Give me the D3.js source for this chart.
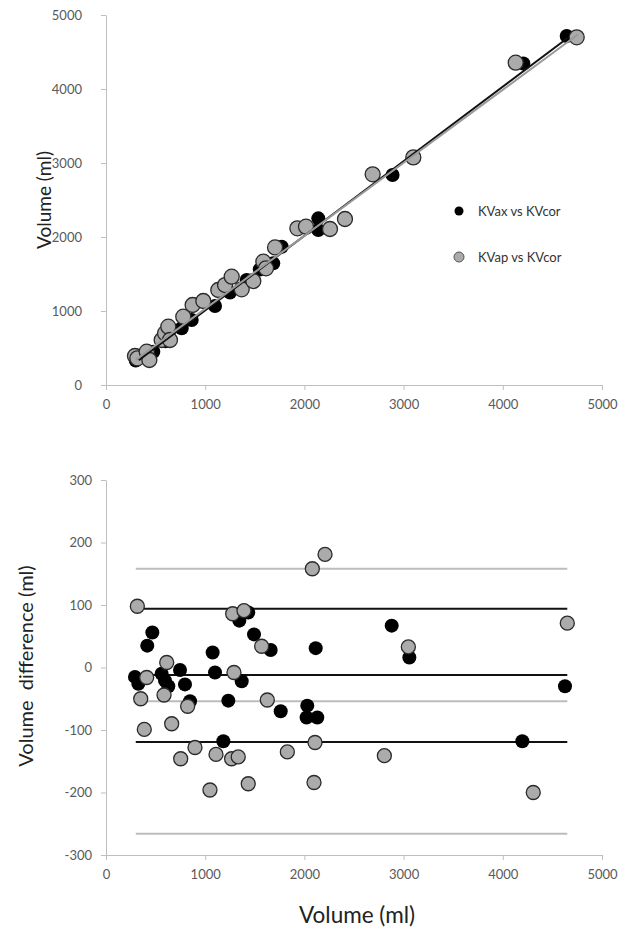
<!DOCTYPE html>
<html>
<head>
<meta charset="utf-8">
<script src="https://cdn.jsdelivr.net/npm/d3@7"></script>
<style>
  body { margin: 0; background: #fff; }
  text { font-family: Lato, "Open Sans", sans-serif; }
  .axis path, .axis line { stroke: #bfbfbf; }
  .axis text { fill: #595959; font-size: 13px; }
  .title { fill: #222; }
</style>
</head>
<body>
<svg id="chart" width="621" height="933"></svg>
<script>
const width = 621, height = 933;
const xTicks = [0, 1000, 2000, 3000, 4000, 5000];
const topYTicks = [0, 1000, 2000, 3000, 4000, 5000];
const botYTicks = [-300, -200, -100, 0, 100, 200, 300];

// top panel: KVcor (x) vs KVax / KVap (y)
const axCor = [300, 477, 600, 763, 864, 1099, 1250, 1418, 1550, 1686, 1771, 2140, 2140, 2889, 4207, 4644];
const axVal = [330, 450, 590, 766, 878, 1068, 1250, 1419, 1560, 1644, 1869, 2252, 2095, 2838, 4345, 4716];
const apCor = [292, 316, 410, 437, 561, 595, 628, 645, 779, 873, 981, 1132, 1200, 1267, 1368, 1485, 1586, 1613, 1704, 1929, 2016, 2258, 2409, 2688, 3098, 4130, 4745];
const apVal = [392, 360, 450, 338, 608, 700, 788, 608, 923, 1081, 1135, 1284, 1351, 1464, 1293, 1405, 1667, 1577, 1859, 2117, 2140, 2108, 2243, 2847, 3076, 4356, 4698];
const axFit = [[330, 335], [4650, 4685]];
const apFit = [[300, 340], [4760, 4740]];

// bottom panel: Bland-Altman
const axMean = [292, 326, 416, 467, 561, 595, 628, 746, 796, 847, 1075, 1099, 1183, 1233, 1344, 1368, 1434, 1492, 1660, 1761, 2029, 2022, 2114, 2130, 2880, 3058, 4197, 4627];
const axDiff = [-15, -26, 35, 56, -10, -21, -30, -4, -27, -54, 24, -8, -118, -53, 75, -22, 88, 53, 28, -70, -61, -80, 31, -80, 67, 16, -118, -30];
const apMean = [316, 350, 386, 410, 585, 612, 662, 753, 823, 897, 1048, 1109, 1266, 1277, 1290, 1333, 1391, 1434, 1569, 1626, 1828, 2080, 2097, 2107, 2208, 2806, 3048, 4307, 4650];
const apDiff = [98, -50, -99, -16, -44, 8, -90, -146, -62, -128, -196, -139, -146, 86, -8, -143, 91, -186, 34, -52, -135, 158, -184, -120, 181, -141, 33, -200, 71];
const axLines = [94, -12, -119];
const apLines = [158, -54, -266];
const lineRange = [300, 4650];

const svg = d3.select('#chart');

const x = d3.scaleLinear().domain([0, 5000]).range([106, 602]);
const yTop = d3.scaleLinear().domain([0, 5000]).range([385, 15]);
const yBot = d3.scaleLinear().domain([-300, 300]).range([855, 480]);
const plain = d => String(d);

function zip(a, b) {
    return a.map((v, i) => [v, b[i]]);
}

// ---- top panel ----
svg.append('g')
    .attr('class', 'axis')
    .attr('transform', `translate(0,${yTop(0)})`)
    .call(d3.axisBottom(x).tickValues(xTicks).tickFormat(plain).tickSize(5).tickSizeOuter(0).tickPadding(10));
svg.append('g')
    .attr('class', 'axis')
    .attr('transform', `translate(${x(0)},0)`)
    .call(d3.axisLeft(yTop).tickValues(topYTicks).tickFormat(plain).tickSize(5).tickSizeOuter(0).tickPadding(19));

svg.append('text')
    .attr('class', 'title')
    .attr('transform', 'translate(43,200) rotate(-90)')
    .attr('text-anchor', 'middle')
    .attr('dominant-baseline', 'central')
    .attr('font-size', 19)
    .text('Volume (ml)');

const topPts = svg.append('g');
topPts.selectAll('circle.ax')
    .data(zip(axCor, axVal))
    .join('circle')
    .attr('class', 'ax')
    .attr('cx', d => x(d[0]))
    .attr('cy', d => yTop(d[1]))
    .attr('r', 7)
    .attr('fill', '#000');
topPts.selectAll('circle.ap')
    .data(zip(apCor, apVal))
    .join('circle')
    .attr('class', 'ap')
    .attr('cx', d => x(d[0]))
    .attr('cy', d => yTop(d[1]))
    .attr('r', 7.5)
    .attr('fill', '#ababab')
    .attr('stroke', '#2a2a2a')
    .attr('stroke-width', 1.3);

const fitLine = d3.line().x(d => x(d[0])).y(d => yTop(d[1]));
svg.append('path').attr('d', fitLine(axFit)).attr('stroke', '#111').attr('stroke-width', 2).attr('fill', 'none');
svg.append('path').attr('d', fitLine(apFit)).attr('stroke', '#9a9a9a').attr('stroke-width', 2).attr('fill', 'none');

// legend
const legend = svg.append('g');
legend.append('circle').attr('cx', 459).attr('cy', 211).attr('r', 4.5).attr('fill', '#000');
legend.append('circle').attr('cx', 459).attr('cy', 257).attr('r', 5).attr('fill', '#ababab').attr('stroke', '#555');
legend.append('text').attr('x', 478).attr('y', 211).attr('dominant-baseline', 'central')
    .attr('font-size', 13).attr('fill', '#333').text('KVax vs KVcor');
legend.append('text').attr('x', 478).attr('y', 257).attr('dominant-baseline', 'central')
    .attr('font-size', 13).attr('fill', '#333').text('KVap vs KVcor');

// ---- bottom panel ----
svg.append('g')
    .attr('class', 'axis')
    .attr('transform', `translate(0,${yBot(-300)})`)
    .call(d3.axisBottom(x).tickValues(xTicks).tickFormat(plain).tickSize(5).tickSizeOuter(0).tickPadding(10));
svg.append('g')
    .attr('class', 'axis')
    .attr('transform', `translate(${x(0)},0)`)
    .call(d3.axisLeft(yBot).tickValues(botYTicks).tickFormat(plain).tickSize(5).tickSizeOuter(0).tickPadding(9));

svg.append('text')
    .attr('class', 'title')
    .attr('transform', 'translate(25,666) rotate(-90)')
    .attr('text-anchor', 'middle')
    .attr('dominant-baseline', 'central')
    .attr('font-size', 20)
    .style('white-space', 'pre')
    .text('Volume  difference (ml)');
svg.append('text')
    .attr('class', 'title')
    .attr('x', 357)
    .attr('y', 914)
    .attr('text-anchor', 'middle')
    .attr('dominant-baseline', 'central')
    .attr('font-size', 22.5)
    .text('Volume (ml)');

const hLines = svg.append('g');
hLines.selectAll('line.ap')
    .data(apLines)
    .join('line')
    .attr('x1', x(lineRange[0])).attr('x2', x(lineRange[1]))
    .attr('y1', d => yBot(d)).attr('y2', d => yBot(d))
    .attr('stroke', '#bcbcbc').attr('stroke-width', 2);
hLines.selectAll('line.ax')
    .data(axLines)
    .join('line')
    .attr('x1', x(lineRange[0])).attr('x2', x(lineRange[1]))
    .attr('y1', d => yBot(d)).attr('y2', d => yBot(d))
    .attr('stroke', '#111').attr('stroke-width', 2);

const botPts = svg.append('g');
botPts.selectAll('circle.ax')
    .data(zip(axMean, axDiff))
    .join('circle')
    .attr('class', 'ax')
    .attr('cx', d => x(d[0]))
    .attr('cy', d => yBot(d[1]))
    .attr('r', 7)
    .attr('fill', '#000');
botPts.selectAll('circle.ap')
    .data(zip(apMean, apDiff))
    .join('circle')
    .attr('class', 'ap')
    .attr('cx', d => x(d[0]))
    .attr('cy', d => yBot(d[1]))
    .attr('r', 7)
    .attr('fill', '#ababab')
    .attr('stroke', '#2a2a2a')
    .attr('stroke-width', 1.3);
</script>
</body>
</html>
